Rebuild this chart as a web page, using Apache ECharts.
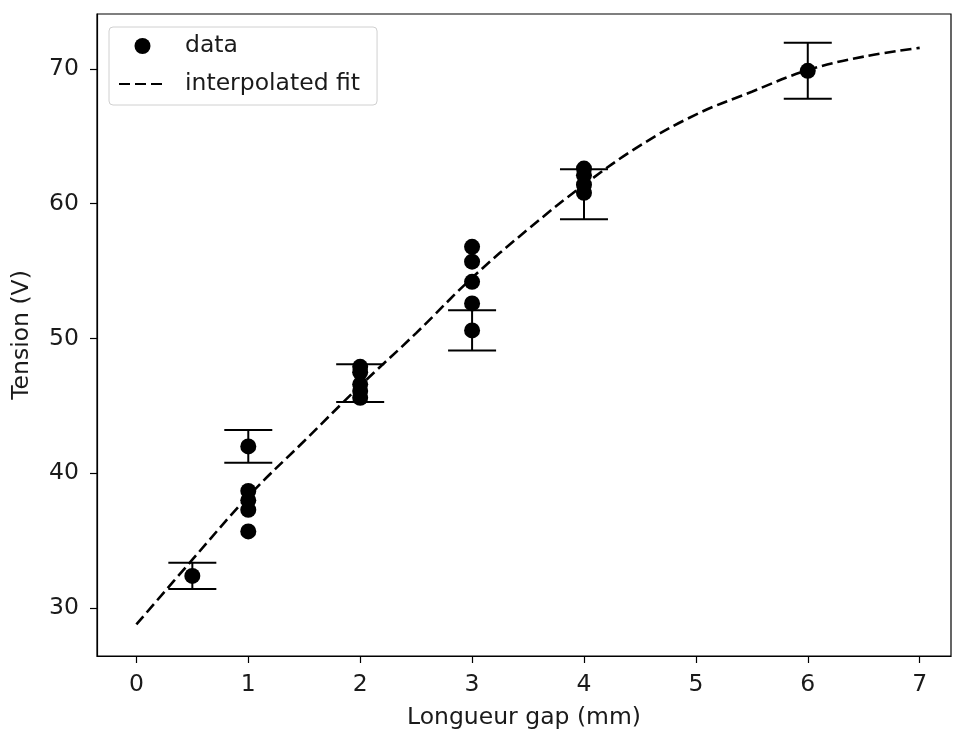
<!DOCTYPE html>
<html>
<head>
<meta charset="utf-8">
<script src="https://cdn.jsdelivr.net/npm/echarts@6/dist/echarts.min.js"></script>
<style>html,body{margin:0;padding:0;background:#fff;}#c{width:954px;height:730px;}</style>
</head>
<body>
<div id="c"></div>
<script>
// measured gaps (mm) and voltages (V)
const dataX = [0.5, 1, 1, 1, 1, 1, 2, 2, 2, 2, 2, 3, 3, 3, 3, 3, 4, 4, 4, 4, 6];
const dataY = [32.4, 42.0, 38.7, 38.0, 37.3, 35.7, 47.9, 47.5, 46.6, 46.1, 45.6, 56.8, 55.7, 54.2, 52.6, 50.6, 62.6, 62.1, 61.4, 60.8, 69.85];

// error bars (one per gap)
const errX = [0.5, 1, 2, 3, 4, 6];
const errCenter = [32.4, 42.0, 46.7, 50.6, 60.7, 69.85];
const errHalf = [0.98, 1.21, 1.4, 1.49, 1.85, 2.08];

// interpolated fit curve
const fitX = [0, 0.5, 1.0, 1.5, 2.0, 2.5, 3.0, 3.5, 4.0, 4.5, 5.0, 5.5, 6.0, 6.5, 7.0];
const fitY = [28.8, 33.6, 38.3, 42.4, 46.5, 50.4, 54.5, 58.1, 61.4, 64.3, 66.6, 68.3, 69.9, 70.9, 71.55];

const xTicks = [0, 1, 2, 3, 4, 5, 6, 7];
const yTicks = [30, 40, 50, 60, 70];

const chart = echarts.init(document.getElementById('c'), null, {renderer: 'canvas'});
const font = 'DejaVu Sans';
const txt = '#1a1a1a';
const fs = 23.5;

const scatterData = dataX.map((x, i) => [x, dataY[i]]);
const errData = errX.map((x, i) => [x, errCenter[i] - errHalf[i], errCenter[i] + errHalf[i]]);
const fitData = fitX.map((x, i) => [x, fitY[i]]);

chart.setOption({
  animation: false,
  backgroundColor: '#fff',
  grid: {left: 97, right: 3, top: 14, bottom: 74, show: true, borderColor: '#000', borderWidth: 1.2,
         containLabel: false, outerBoundsMode: 'none'},
  xAxis: {
    type: 'value', min: -0.352, max: 7.28,
    splitLine: {show: false},
    axisLine: {show: true, onZero: false, lineStyle: {color: '#000', width: 1.2}},
    axisTick: {show: true, length: 7, lineStyle: {color: '#000', width: 1.2}, customValues: xTicks},
    axisLabel: {customValues: xTicks, color: txt, fontFamily: font, fontSize: fs, margin: 17},
    name: 'Longueur gap (mm)', nameLocation: 'middle', nameGap: 50,
    nameTextStyle: {color: txt, fontFamily: font, fontSize: fs}
  },
  yAxis: {
    type: 'value', min: 26.46, max: 74.06,
    splitLine: {show: false},
    axisLine: {show: true, onZero: false, lineStyle: {color: '#000', width: 1.2}},
    axisTick: {show: true, length: 7, lineStyle: {color: '#000', width: 1.2}, customValues: yTicks},
    axisLabel: {customValues: yTicks, color: txt, fontFamily: font, fontSize: fs, margin: 18},
    name: 'Tension (V)', nameLocation: 'middle', nameGap: 63, nameRotate: 90,
    nameTextStyle: {color: txt, fontFamily: font, fontSize: fs}
  },
  legend: {
    orient: 'vertical', left: 109, top: 27,
    padding: [7, 17, 9, 9],
    itemWidth: 47, itemHeight: 16, itemGap: 14,
    borderColor: '#d0d0d0', borderWidth: 1, borderRadius: 4,
    backgroundColor: '#fff',
    textStyle: {color: txt, fontFamily: font, fontSize: fs, padding: [0, 0, 0, 14]},
    data: [
      {name: 'data', icon: 'circle'},
      {name: 'interpolated fit', itemStyle: {color: 'rgba(0,0,0,0)', opacity: 0, borderWidth: 0}}
    ]
  },
  series: [
    {
      name: 'interpolated fit', type: 'line', data: fitData, smooth: 0.4,
      showSymbol: false, symbol: 'none',
      lineStyle: {color: '#000', width: 2.6, type: [11, 5]},
      itemStyle: {color: '#000'}, z: 2
    },
    {
      name: 'errors', type: 'custom', data: errData, z: 3,
      renderItem: function (params, api) {
        const x = api.value(0);
        const lo = api.coord([x, api.value(1)]);
        const hi = api.coord([x, api.value(2)]);
        const hw = 24;
        const st = {stroke: '#000', lineWidth: 2};
        return {type: 'group', children: [
          {type: 'line', shape: {x1: lo[0], y1: lo[1], x2: hi[0], y2: hi[1]}, style: st},
          {type: 'line', shape: {x1: lo[0] - hw, y1: lo[1], x2: lo[0] + hw, y2: lo[1]}, style: st},
          {type: 'line', shape: {x1: hi[0] - hw, y1: hi[1], x2: hi[0] + hw, y2: hi[1]}, style: st}
        ]};
      }
    },
    {
      name: 'data', type: 'scatter', data: scatterData, symbol: 'circle', symbolSize: 16,
      itemStyle: {color: '#000', opacity: 1}, z: 4
    }
  ]
});
</script>
</body>
</html>
